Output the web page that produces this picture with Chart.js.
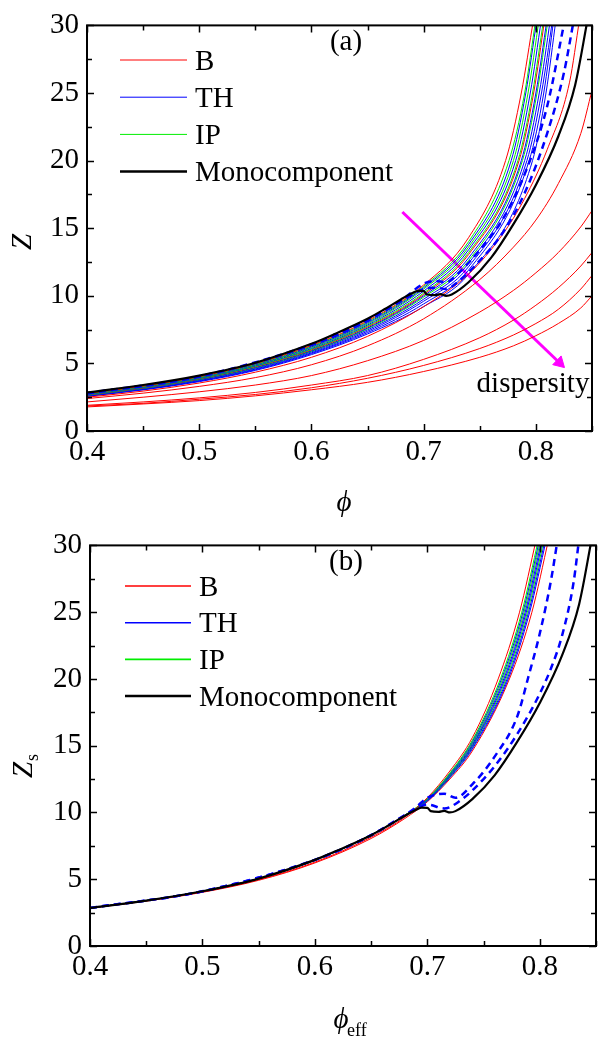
<!DOCTYPE html>
<html>
<head>
<meta charset="utf-8">
<script src="https://cdn.jsdelivr.net/npm/chart.js@4.4.0/dist/chart.umd.min.js"></script>
<style>
  html, body { margin: 0; padding: 0; background: #fff; }
  canvas { display: block; }
</style>
</head>
<body>
<canvas id="chartA" width="600" height="520"></canvas>
<canvas id="chartB" width="600" height="520"></canvas>
<script>
// ---- tick labels ----
const xTickLabels = ['0.4', '0.5', '0.6', '0.7', '0.8'];
const yTickLabels = ['0', '5', '10', '15', '20', '25', '30'];
const legendLabels = ['B', 'TH', 'IP', 'Monocomponent'];

// ---- panel (a): Z vs phi ----
// bundle of near-monodisperse curves: shared grid + phi where each curve reaches Z = 20, 25, 30.5
const gridA = [0.40, 0.45, 0.50, 0.55, 0.60, 0.65, 0.70, 0.74];
const bundleA = ['B', 'IP', 'TH', 'IP', 'TH', 'IP', 'B', 'TH', 'IP', 'TH', 'TH', 'TH', 'TH'];
const zA1  = [2.78, 3.32, 4.02, 4.98, 6.33, 8.15, 10.8, 14.3];
const zA2  = [2.76, 3.30, 3.99, 4.94, 6.28, 8.08, 10.7, 14.0];
const zA3  = [2.74, 3.28, 3.96, 4.90, 6.22, 8.00, 10.6, 13.8];
const zA4  = [2.72, 3.26, 3.93, 4.86, 6.16, 7.92, 10.5, 13.6];
const zA5  = [2.70, 3.23, 3.90, 4.82, 6.10, 7.84, 10.35, 13.4];
const zA6  = [2.68, 3.21, 3.87, 4.78, 6.04, 7.76, 10.2, 13.2];
const zA7  = [2.67, 3.19, 3.85, 4.75, 6.00, 7.70, 10.1, 13.05];
const zA8  = [2.65, 3.17, 3.82, 4.70, 5.94, 7.62, 10.0, 12.8];
const zA9  = [2.64, 3.15, 3.80, 4.67, 5.90, 7.56, 9.9, 12.6];
const zA10 = [2.62, 3.13, 3.77, 4.63, 5.85, 7.48, 9.75, 12.4];
const zA11 = [2.60, 3.10, 3.73, 4.58, 5.78, 7.38, 9.6, 12.15];
const zA12 = [2.58, 3.07, 3.69, 4.53, 5.72, 7.28, 9.4, 11.9];
const zA13 = [2.56, 3.04, 3.65, 4.48, 5.65, 7.18, 9.2, 11.6];
const phiZ20A = [0.773, 0.776, 0.778, 0.780, 0.782, 0.784, 0.785, 0.787, 0.788, 0.790, 0.792, 0.794, 0.797];
const phiZ25A = [0.787, 0.790, 0.791, 0.793, 0.795, 0.797, 0.798, 0.800, 0.801, 0.803, 0.805, 0.807, 0.809];
const phiZ30A = [0.798, 0.800, 0.801, 0.803, 0.805, 0.807, 0.808, 0.810, 0.811, 0.813, 0.815, 0.816, 0.818];

// TH dashed curves
const phiD1a = [0.40, 0.50, 0.60, 0.65, 0.68, 0.70, 0.71, 0.72, 0.73, 0.75, 0.77, 0.79, 0.81, 0.825, 0.834];
const zD1a   = [2.80, 4.05, 6.40, 8.20, 9.60, 10.5, 10.6, 10.5, 11.0, 12.6, 14.6, 17.6, 22.0, 26.5, 30.5];
const phiD2a = [0.40, 0.50, 0.60, 0.65, 0.68, 0.70, 0.71, 0.72, 0.73, 0.75, 0.77, 0.79, 0.81, 0.826];
const zD2a   = [2.78, 4.02, 6.35, 8.15, 9.65, 10.9, 11.1, 11.0, 11.6, 13.4, 15.6, 19.0, 24.0, 30.5];

// B curves of growing dispersity
const phiR1a = [0.40, 0.45, 0.50, 0.55, 0.60, 0.65, 0.70, 0.74, 0.77, 0.79, 0.81, 0.83, 0.839];
const zR1a   = [2.50, 2.95, 3.55, 4.35, 5.45, 7.00, 9.20, 11.6, 14.5, 17.2, 20.8, 25.8, 30.5];
const gridR  = [0.40, 0.45, 0.50, 0.55, 0.60, 0.65, 0.70, 0.75, 0.78, 0.80, 0.82, 0.84, 0.85];
const zR2 = [2.40, 2.80, 3.30, 3.95, 4.90, 6.30, 8.30, 11.2, 13.6, 15.6, 18.3, 22.0, 25.2];
const zR3 = [2.15, 2.50, 2.90, 3.40, 4.10, 5.20, 6.70, 8.80, 10.4, 11.7, 13.2, 15.1, 16.3];
const zR4 = [1.90, 2.15, 2.45, 2.85, 3.40, 4.10, 5.30, 6.90, 8.20, 9.30, 10.6, 12.2, 13.2];
const zR5 = [1.85, 2.05, 2.35, 2.70, 3.20, 3.90, 4.85, 6.10, 7.10, 7.95, 9.00, 10.5, 11.5];
const zR6 = [1.78, 2.00, 2.25, 2.60, 3.05, 3.60, 4.40, 5.45, 6.30, 7.05, 7.95, 9.10, 10.0];

// monocomponent (same in both panels)
const phiMono = [0.40, 0.45, 0.50, 0.55, 0.60, 0.62, 0.65, 0.665, 0.68, 0.69, 0.695, 0.70, 0.703, 0.71, 0.715, 0.72, 0.725, 0.74, 0.76, 0.78, 0.80, 0.82, 0.835, 0.846];
const zMono   = [2.85, 3.40, 4.10, 5.05, 6.45, 7.15, 8.30, 9.00, 9.75, 10.2, 10.37, 10.35, 10.1, 10.05, 10.12, 10.0, 10.1, 11.0, 12.8, 15.3, 18.2, 21.8, 25.6, 30.4];

// dispersity arrow
const arrowPhi = [0.681, 0.821];
const arrowZ   = [16.2, 5.05];

// ---- panel (b): Zs vs phi_eff ----
const gridB = [0.40, 0.45, 0.50, 0.55, 0.60, 0.65, 0.68, 0.70, 0.72, 0.74];
const bundleB = ['B', 'IP', 'TH', 'IP', 'TH', 'TH', 'IP', 'TH', 'TH', 'B'];
const zB1  = [2.84, 3.38, 4.05, 4.97, 6.28, 8.15, 9.65, 11.1, 13.1, 15.6];
const zB2  = [2.85, 3.40, 4.10, 5.05, 6.42, 8.32, 9.78, 11.05, 12.95, 15.4];
const zB3  = [2.85, 3.40, 4.10, 5.05, 6.42, 8.32, 9.78, 11.0, 12.9, 15.3];
const zB4  = [2.85, 3.40, 4.10, 5.05, 6.42, 8.32, 9.78, 10.98, 12.85, 15.2];
const zB5  = [2.85, 3.40, 4.10, 5.05, 6.42, 8.32, 9.78, 10.95, 12.8, 15.1];
const zB6  = [2.85, 3.40, 4.10, 5.05, 6.42, 8.32, 9.78, 10.92, 12.75, 15.0];
const zB7  = [2.85, 3.40, 4.10, 5.05, 6.42, 8.32, 9.78, 10.9, 12.7, 14.95];
const zB8  = [2.85, 3.40, 4.10, 5.05, 6.42, 8.32, 9.78, 10.88, 12.65, 14.85];
const zB9  = [2.85, 3.40, 4.10, 5.05, 6.42, 8.32, 9.78, 10.85, 12.6, 14.75];
const zB10 = [2.83, 3.36, 4.02, 4.92, 6.22, 8.05, 9.55, 10.8, 12.5, 14.6];
const phiZ20B = [0.763, 0.765, 0.766, 0.767, 0.768, 0.769, 0.770, 0.771, 0.772, 0.773];
const phiZ25B = [0.782, 0.784, 0.785, 0.786, 0.787, 0.788, 0.789, 0.790, 0.791, 0.793];
const phiZ30B = [0.797, 0.799, 0.800, 0.801, 0.802, 0.803, 0.804, 0.805, 0.806, 0.808];

const phiD1b = [0.40, 0.50, 0.60, 0.65, 0.68, 0.69, 0.70, 0.715, 0.727, 0.75, 0.77, 0.79, 0.80, 0.81, 0.82, 0.83, 0.835];
const zD1b   = [2.85, 4.10, 6.45, 8.30, 9.80, 10.25, 10.6, 10.3, 10.75, 12.5, 14.6, 17.3, 18.9, 20.8, 23.3, 27.2, 30.5];
const phiD2b = [0.40, 0.50, 0.60, 0.65, 0.68, 0.69, 0.70, 0.715, 0.725, 0.74, 0.76, 0.78, 0.79, 0.80, 0.81, 0.816];
const zD2b   = [2.85, 4.10, 6.45, 8.30, 9.80, 10.4, 11.1, 11.4, 11.1, 12.1, 14.2, 17.2, 20.2, 23.4, 27.4, 30.5];

// ---- styling ----
const FONT = "'Liberation Serif', 'Times New Roman', serif";
const COLORS = { B: '#ff0000', TH: '#0000ff', IP: '#00ee00', Mono: '#000000' };

function pts(phi, z) {
    return phi.map((p, i) => ({ x: p, y: z[i] }));
}

function bundlePts(grid, z, p20, p25, p30) {
    return pts(grid.concat([p20, p25, p30]), z.concat([20, 25, 30.5]));
}

function line(data, color, width, dash) {
    return {
        data: data,
        borderColor: color,
        backgroundColor: color,
        borderWidth: width,
        borderDash: dash || [],
        pointRadius: 0,
        fill: false,
        cubicInterpolationMode: 'monotone'
    };
}

// frame, inner ticks, legend and labels
function decorPlugin(cfg) {
    return {
        id: 'decor',
        afterDraw(chart) {
            const ctx = chart.ctx;
            const a = chart.chartArea;
            const xs = chart.scales.x;
            const ys = chart.scales.y;
            ctx.save();
            ctx.strokeStyle = '#000';
            ctx.lineWidth = 1.5;
            ctx.beginPath();
            xs.ticks.forEach(t => {
                const px = Math.round(xs.getPixelForValue(t.value)) + 0.5;
                const len = xTickLabels.includes(t.label) ? 7 : 5;
                ctx.moveTo(px, a.bottom); ctx.lineTo(px, a.bottom - len);
                ctx.moveTo(px, a.top); ctx.lineTo(px, a.top + len);
            });
            ys.ticks.forEach(t => {
                const py = Math.round(ys.getPixelForValue(t.value)) + 0.5;
                const len = yTickLabels.includes(t.label) ? 7 : 5;
                ctx.moveTo(a.left, py); ctx.lineTo(a.left + len, py);
                ctx.moveTo(a.right, py); ctx.lineTo(a.right - len, py);
            });
            ctx.stroke();
            ctx.lineWidth = 2;
            ctx.strokeRect(a.left, a.top, a.right - a.left, a.bottom - a.top);

            // legend
            const legendColors = [COLORS.B, COLORS.TH, COLORS.IP, COLORS.Mono];
            ctx.font = '29px ' + FONT;
            ctx.textBaseline = 'middle';
            ctx.textAlign = 'left';
            legendLabels.forEach((lab, i) => {
                const y = cfg.legendY + i * cfg.legendStep;
                ctx.strokeStyle = legendColors[i];
                ctx.lineWidth = i === 3 ? 2.5 : cfg.legendWidth;
                ctx.beginPath();
                ctx.moveTo(cfg.legendX1, y);
                ctx.lineTo(cfg.legendX2, y);
                ctx.stroke();
                ctx.fillStyle = '#000';
                ctx.fillText(lab, cfg.legendX2 + 8, y + 2);
            });

            // panel label
            ctx.textAlign = 'center';
            ctx.fillText(cfg.panel, cfg.panelX, cfg.panelY);

            if (cfg.note) {
                ctx.fillText(cfg.note.text, cfg.note.x, cfg.note.y);
            }

            // y title
            ctx.save();
            ctx.translate(cfg.yTitleX, cfg.yTitleY);
            ctx.rotate(-Math.PI / 2);
            ctx.font = 'italic 29px ' + FONT;
            ctx.textAlign = 'center';
            ctx.fillText('Z', 0, 0);
            if (cfg.ySub) {
                ctx.font = '18px ' + FONT;
                ctx.textAlign = 'left';
                ctx.fillText(cfg.ySub, 9, 9);
            }
            ctx.restore();

            // x title
            ctx.font = 'italic 29px ' + FONT;
            ctx.textAlign = 'center';
            ctx.fillText('\u03d5', cfg.xTitleX, cfg.xTitleY);
            if (cfg.xSub) {
                ctx.font = '18px ' + FONT;
                ctx.textAlign = 'left';
                ctx.fillText(cfg.xSub, cfg.xTitleX + 6, cfg.xTitleY + 11);
            }
            ctx.restore();
        }
    };
}

function scaleOpts(yWidth, xHeight) {
    return {
        x: {
            type: 'linear',
            min: 0.4,
            max: 0.85,
            afterFit: s => { s.height = xHeight; },
            grid: { display: false, drawTicks: false },
            border: { display: false },
            ticks: {
                stepSize: 0.05,
                autoSkip: false,
                maxRotation: 0,
                padding: 4,
                color: '#000',
                font: { family: FONT, size: 29 },
                callback: v => {
                    const s = v.toFixed(2).replace(/0$/, '');
                    return xTickLabels.includes(s) ? s : '';
                }
            }
        },
        y: {
            type: 'linear',
            min: 0,
            max: 30,
            afterFit: s => { s.width = yWidth; },
            grid: { display: false, drawTicks: false },
            border: { display: false },
            ticks: {
                stepSize: 2.5,
                autoSkip: false,
                padding: 8,
                color: '#000',
                font: { family: FONT, size: 29 },
                callback: v => {
                    const s = String(v);
                    return yTickLabels.includes(s) ? s : '';
                }
            }
        }
    };
}

// ---- datasets panel (a) ----
const zAll = [zA1, zA2, zA3, zA4, zA5, zA6, zA7, zA8, zA9, zA10, zA11, zA12, zA13];
const dsA = [
    line(pts(phiMono, zMono), COLORS.Mono, 2.2),
    line(pts(phiD1a, zD1a), COLORS.TH, 2.5, [7, 5]),
    line(pts(phiD2a, zD2a), COLORS.TH, 2.5, [7, 5]),
    line(pts(phiR1a, zR1a), COLORS.B, 1),
    line(pts(gridR, zR2), COLORS.B, 1),
    line(pts(gridR, zR3), COLORS.B, 1),
    line(pts(gridR, zR4), COLORS.B, 1),
    line(pts(gridR, zR5), COLORS.B, 1),
    line(pts(gridR, zR6), COLORS.B, 1)
];
zAll.forEach((z, i) => {
    dsA.push(line(bundlePts(gridA, z, phiZ20A[i], phiZ25A[i], phiZ30A[i]), COLORS[bundleA[i]], 1));
});
const arrow = line(pts(arrowPhi, arrowZ), '#ff00ff', 3);
arrow.cubicInterpolationMode = 'default';
arrow.pointStyle = 'triangle';
arrow.pointRadius = [0, 7];
arrow.pointRotation = [0, 134];
arrow.pointBorderWidth = 1;
dsA.push(arrow);

// ---- datasets panel (b) ----
const zAllB = [zB1, zB2, zB3, zB4, zB5, zB6, zB7, zB8, zB9, zB10];
const dsB = [
    line(pts(phiMono, zMono), COLORS.Mono, 2.2),
    line(pts(phiD1b, zD1b), COLORS.TH, 2.5, [7, 5]),
    line(pts(phiD2b, zD2b), COLORS.TH, 2.5, [7, 5])
];
zAllB.forEach((z, i) => {
    dsB.push(line(bundlePts(gridB, z, phiZ20B[i], phiZ25B[i], phiZ30B[i]), COLORS[bundleB[i]], 1));
});

const baseOptions = {
    responsive: false,
    animation: false,
    devicePixelRatio: 1,
    plugins: { legend: { display: false }, tooltip: { enabled: false } }
};

new Chart(document.getElementById('chartA'), {
    type: 'line',
    data: { datasets: dsA },
    options: {
        ...baseOptions,
        layout: { padding: { top: 21, right: 1, left: 0, bottom: 0 } },
        scales: scaleOpts(87, 89)
    },
    plugins: [decorPlugin({
        legendX1: 120, legendX2: 187, legendY: 60, legendStep: 37.2, legendWidth: 1,
        panel: '(a)', panelX: 346, panelY: 42,
        note: { text: 'dispersity', x: 533, y: 384 },
        yTitleX: 23, yTitleY: 242,
        xTitleX: 344, xTitleY: 503
    })]
});

new Chart(document.getElementById('chartB'), {
    type: 'line',
    data: { datasets: dsB },
    options: {
        ...baseOptions,
        layout: { padding: { top: 19, right: 1, left: 0, bottom: 0 } },
        scales: scaleOpts(90, 94)
    },
    plugins: [decorPlugin({
        legendX1: 125, legendX2: 191, legendY: 66, legendStep: 36.7, legendWidth: 1.6,
        panel: '(b)', panelX: 346, panelY: 42,
        yTitleX: 24, yTitleY: 250, ySub: 's',
        xTitleX: 341, xTitleY: 500, xSub: 'eff'
    })]
});
</script>
</body>
</html>
